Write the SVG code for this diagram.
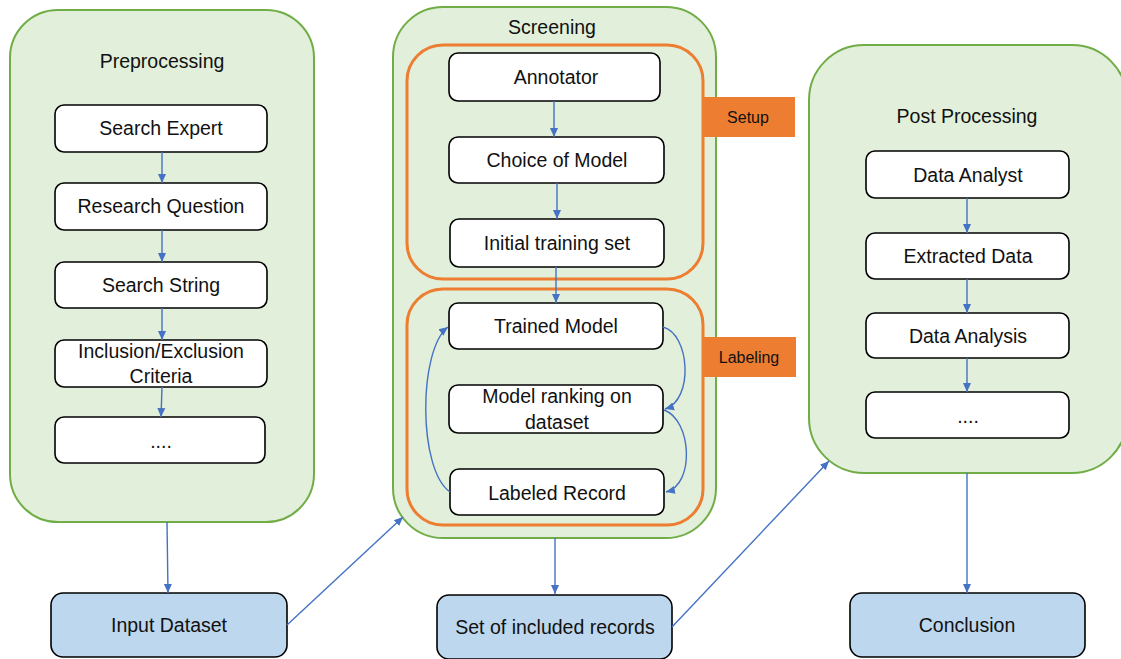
<svg xmlns="http://www.w3.org/2000/svg" width="1121" height="659" viewBox="0 0 1121 659">
<style>
.stage{fill:#e2efda;stroke:#70ad47;stroke-width:2}
.phase{fill:none;stroke:#ed7d31;stroke-width:3}
.tag{fill:#ed7d31}
.box{fill:#ffffff;stroke:#000;stroke-width:1.6}
.io{fill:#bdd7ee;stroke:#000;stroke-width:1.6}
text{font-family:"Liberation Sans",Arial,sans-serif;font-size:19.5px;fill:#111;text-anchor:middle}
.small{font-size:16px}
.conn path,.conn line{stroke:#4472c4;stroke-width:1.4;fill:none;marker-end:url(#ah)}
</style>
<defs>
<marker id="ah" markerUnits="userSpaceOnUse" markerWidth="10" markerHeight="10" viewBox="0 0 10 10" refX="9" refY="5" orient="auto">
<path d="M0,1 L9,5 L0,9 z" fill="#4472c4"/>
</marker>
</defs>

<g id="preprocessing">
<rect class="stage" x="10" y="10" width="304" height="512" rx="48"/>
<text x="162" y="68">Preprocessing</text>
</g>
<g id="search-expert"><rect class="box" x="55" y="105" width="212" height="47" rx="9"/><text x="161" y="135">Search Expert</text></g>
<g id="research-question"><rect class="box" x="55" y="183" width="212" height="47" rx="9"/><text x="161" y="213">Research Question</text></g>
<g id="search-string"><rect class="box" x="55" y="262" width="212" height="46" rx="9"/><text x="161" y="292">Search String</text></g>
<g id="inclusion-exclusion"><rect class="box" x="55" y="340" width="212" height="47" rx="9"/><text x="161" y="358">Inclusion/Exclusion</text><text x="161" y="383">Criteria</text></g>
<g id="pre-more"><rect class="box" x="55" y="417" width="210" height="46" rx="9"/><text x="161" y="448">....</text></g>

<g id="screening">
<rect class="stage" x="393" y="7" width="323" height="531" rx="50"/>
<text x="552" y="34">Screening</text>
</g>
<g id="setup">
<rect class="phase" x="407" y="45" width="296" height="234" rx="36"/>
<rect class="tag" x="702" y="97" width="93" height="40"/>
<text class="small" x="748" y="123">Setup</text>
</g>
<g id="annotator"><rect class="box" x="449" y="53" width="211" height="48" rx="9"/><text x="556" y="84">Annotator</text></g>
<g id="choice-of-model"><rect class="box" x="449" y="137" width="215" height="46" rx="9"/><text x="557" y="167">Choice of Model</text></g>
<g id="initial-training-set"><rect class="box" x="450" y="219" width="214" height="48" rx="9"/><text x="557" y="250">Initial training set</text></g>
<g id="labeling">
<rect class="phase" x="407" y="289" width="296" height="236" rx="36"/>
<rect class="tag" x="702" y="337" width="94" height="40"/>
<text class="small" x="749" y="363">Labeling</text>
</g>
<g id="trained-model"><rect class="box" x="449" y="303" width="214" height="46" rx="9"/><text x="556" y="333">Trained Model</text></g>
<g id="model-ranking"><rect class="box" x="449" y="385" width="214" height="48" rx="9"/><text x="557" y="403">Model ranking on</text><text x="557" y="429">dataset</text></g>
<g id="labeled-record"><rect class="box" x="450" y="469" width="214" height="46" rx="9"/><text x="557" y="500">Labeled Record</text></g>

<g id="post-processing">
<rect class="stage" x="809" y="45" width="318" height="428" rx="55"/>
<text x="967" y="123">Post Processing</text>
</g>
<g id="data-analyst"><rect class="box" x="866" y="151" width="203" height="47" rx="9"/><text x="968" y="182">Data Analyst</text></g>
<g id="extracted-data"><rect class="box" x="866" y="233" width="203" height="46" rx="9"/><text x="968" y="263">Extracted Data</text></g>
<g id="data-analysis"><rect class="box" x="866" y="313" width="203" height="45" rx="9"/><text x="968" y="343">Data Analysis</text></g>
<g id="post-more"><rect class="box" x="866" y="392" width="203" height="46" rx="9"/><text x="968" y="423">....</text></g>

<g id="input-dataset"><rect class="io" x="51" y="593" width="236" height="64" rx="12"/><text x="169" y="632">Input Dataset</text></g>
<g id="included-records"><rect class="io" x="437" y="595" width="235" height="64" rx="12"/><text x="555" y="634">Set of included records</text></g>
<g id="conclusion"><rect class="io" x="850" y="593" width="235" height="64" rx="12"/><text x="967" y="632">Conclusion</text></g>

<g class="conn" id="connectors">
<line x1="162" y1="152" x2="162" y2="183"/>
<line x1="162" y1="230" x2="162" y2="262"/>
<line x1="162" y1="308" x2="162" y2="340"/>
<line x1="162" y1="387" x2="161" y2="417"/>
<line x1="554" y1="101" x2="554" y2="137"/>
<line x1="557" y1="183" x2="557" y2="219"/>
<line x1="556" y1="267" x2="556" y2="303"/>
<line x1="967" y1="198" x2="967" y2="233"/>
<line x1="967" y1="279" x2="967" y2="313"/>
<line x1="967" y1="358" x2="967" y2="392"/>
<path d="M663,327 C690,334 694,400 665,409"/>
<path d="M664,410 C692,420 695,485 666,492"/>
<path d="M450,492 C418,470 418,350 448,327"/>
<line x1="167" y1="522" x2="168" y2="593"/>
<line x1="287" y1="625" x2="403" y2="517"/>
<line x1="555" y1="538" x2="555" y2="594"/>
<line x1="672" y1="627" x2="829" y2="461"/>
<line x1="967" y1="473" x2="967" y2="593"/>
</g>
</svg>
